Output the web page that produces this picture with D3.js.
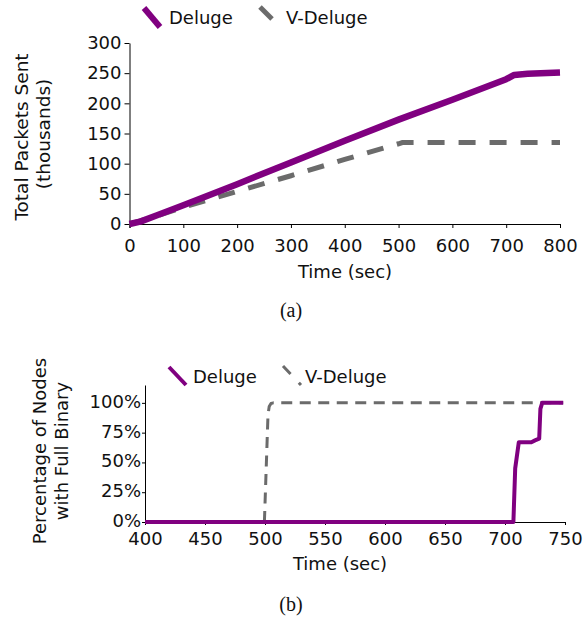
<!DOCTYPE html>
<html><head><meta charset="utf-8">
<script src="https://cdn.jsdelivr.net/npm/d3@7"></script>
<style>
body{margin:0;background:#fff;}
svg{display:block;font-family:"DejaVu Sans",sans-serif;}
</style></head><body>
<svg id="c" width="583" height="617"></svg>
<script>
// ---- Data: panel (a) ----
const aDelugeTime = [0, 20, 50, 100, 200, 300, 400, 500, 600, 700, 715, 740, 800];
const aDelugeVal  = [0, 4, 14, 31, 66, 102, 138, 173, 206, 240, 247, 249, 251];
const aVDelugeTime = [0, 50, 100, 200, 300, 400, 500, 507, 800];
const aVDelugeVal  = [0, 13, 28, 54, 80, 107, 133, 135, 135];
const aXTicks = [0, 100, 200, 300, 400, 500, 600, 700, 800];
const aYTicks = [0, 50, 100, 150, 200, 250, 300];

// ---- Data: panel (b) ----
const bDelugeTime = [400, 707, 708.5, 711.5, 722, 725, 728.5, 729.5, 731, 748.5];
const bDelugeVal  = [0, 0, 0.45, 0.67, 0.67, 0.685, 0.70, 0.95, 1.0, 1.0];
const bVDelugeTime = [499.5, 502.5, 503.5, 505, 507, 748.5];
const bVDelugeVal  = [0, 0.90, 0.97, 0.995, 1.0, 1.0];
const bXTicks = [400, 450, 500, 550, 600, 650, 700, 750];
const bYTicks = [0, 0.25, 0.5, 0.75, 1.0];

const seriesNames = ["Deluge", "V-Deluge"];
const purple = "#800080", gray = "#6b6b6b";

const svg = d3.select("#c");

// ================= Panel (a) =================
const ax = d3.scaleLinear().domain([0, 800]).range([129.5, 560]);
const ay = d3.scaleLinear().domain([0, 300]).range([224, 43]);
const ga = svg.append("g");

const xa = ga.append("g").attr("transform", "translate(0,224)")
  .call(d3.axisBottom(ax).tickValues(aXTicks).tickSize(4).tickPadding(11).tickSizeOuter(4));
const ya = ga.append("g").attr("transform", "translate(129.5,0)")
  .call(d3.axisLeft(ay).tickValues(aYTicks).tickSize(5).tickPadding(3).tickSizeOuter(0));
[xa, ya].forEach(g => {
  g.selectAll("text").attr("font-size", 18).attr("font-family", "DejaVu Sans").attr("fill", "#111");
  g.selectAll("line,path").attr("stroke", "#000");
});

const lineA = d3.line().x(d => ax(d[0])).y(d => ay(d[1]));
ga.append("path").datum(d3.zip(aVDelugeTime, aVDelugeVal)).attr("d", lineA)
  .attr("fill", "none").attr("stroke", gray).attr("stroke-width", 5)
  .attr("stroke-dasharray", "17,14");
ga.append("path").datum(d3.zip(aDelugeTime, aDelugeVal)).attr("d", lineA)
  .attr("fill", "none").attr("stroke", purple).attr("stroke-width", 6.5)
  .attr("stroke-linejoin", "round");

ga.append("text").attr("x", 345).attr("y", 278).attr("text-anchor", "middle")
  .attr("font-size", 18).attr("fill", "#111").text("Time (sec)");
ga.append("text").attr("transform", "translate(28,137) rotate(-90)").attr("text-anchor", "middle")
  .attr("font-size", 18.5).attr("fill", "#111").text("Total Packets Sent");
ga.append("text").attr("transform", "translate(50,134) rotate(-90)").attr("text-anchor", "middle")
  .attr("font-size", 18.5).attr("fill", "#111").text("(thousands)");

// legend (a)
ga.append("line").attr("x1", 144).attr("y1", 8).attr("x2", 160).attr("y2", 27)
  .attr("stroke", purple).attr("stroke-width", 6);
ga.append("text").attr("x", 169).attr("y", 24).attr("font-size", 18).attr("fill", "#111").text(seriesNames[0]);
ga.append("line").attr("x1", 260).attr("y1", 7).attr("x2", 272).attr("y2", 19)
  .attr("stroke", gray).attr("stroke-width", 5);
ga.append("text").attr("x", 286).attr("y", 24).attr("font-size", 18).attr("fill", "#111").text(seriesNames[1]);

svg.append("text").attr("x", 291).attr("y", 317).attr("text-anchor", "middle")
  .attr("font-family", "Liberation Serif, Times New Roman, serif").attr("font-size", 20).attr("fill", "#111").text("(a)");

// ================= Panel (b) =================
const bx = d3.scaleLinear().domain([400, 750]).range([145, 565]);
const by = d3.scaleLinear().domain([0, 1.15]).range([522, 385]);
const gb = svg.append("g");

const xb = gb.append("g").attr("transform", "translate(0,522)")
  .call(d3.axisBottom(bx).tickValues(bXTicks).tickSize(3).tickPadding(7).tickSizeOuter(3));
const yb = gb.append("g").attr("transform", "translate(145,0)")
  .call(d3.axisLeft(by).tickValues(bYTicks).tickSize(3).tickPadding(1).tickSizeOuter(0)
    .tickFormat(d3.format(".0%")));
[xb, yb].forEach(g => {
  g.selectAll("text").attr("font-size", 18).attr("font-family", "DejaVu Sans").attr("fill", "#111");
  g.selectAll("line,path").attr("stroke", "#000");
});
yb.selectAll(".tick text").attr("dy", "0.25em");

const lineB = d3.line().x(d => bx(d[0])).y(d => by(d[1]));
gb.append("path").datum(d3.zip(bVDelugeTime, bVDelugeVal)).attr("d", lineB)
  .attr("fill", "none").attr("stroke", gray).attr("stroke-width", 3)
  .attr("stroke-dasharray", "11,7.5").attr("stroke-linejoin", "round");
gb.append("path").datum(d3.zip(bDelugeTime, bDelugeVal)).attr("d", lineB)
  .attr("fill", "none").attr("stroke", purple).attr("stroke-width", 4)
  .attr("stroke-linejoin", "round");

gb.append("text").attr("x", 340).attr("y", 570).attr("text-anchor", "middle")
  .attr("font-size", 18).attr("fill", "#111").text("Time (sec)");
gb.append("text").attr("transform", "translate(46,451) rotate(-90)").attr("text-anchor", "middle")
  .attr("font-size", 18).attr("fill", "#111").text("Percentage of Nodes");
gb.append("text").attr("transform", "translate(68,451) rotate(-90)").attr("text-anchor", "middle")
  .attr("font-size", 18).attr("fill", "#111").text("with Full Binary");

// legend (b)
gb.append("line").attr("x1", 169).attr("y1", 367).attr("x2", 186).attr("y2", 385)
  .attr("stroke", purple).attr("stroke-width", 4);
gb.append("text").attr("x", 193).attr("y", 383).attr("font-size", 18).attr("fill", "#111").text(seriesNames[0]);
gb.append("line").attr("x1", 283).attr("y1", 366).attr("x2", 301).attr("y2", 385)
  .attr("stroke", gray).attr("stroke-width", 3).attr("stroke-dasharray", "11,12");
gb.append("text").attr("x", 305).attr("y", 383).attr("font-size", 18).attr("fill", "#111").text(seriesNames[1]);

svg.append("text").attr("x", 291).attr("y", 611).attr("text-anchor", "middle")
  .attr("font-family", "Liberation Serif, Times New Roman, serif").attr("font-size", 20).attr("fill", "#111").text("(b)");
</script>
</body></html>
